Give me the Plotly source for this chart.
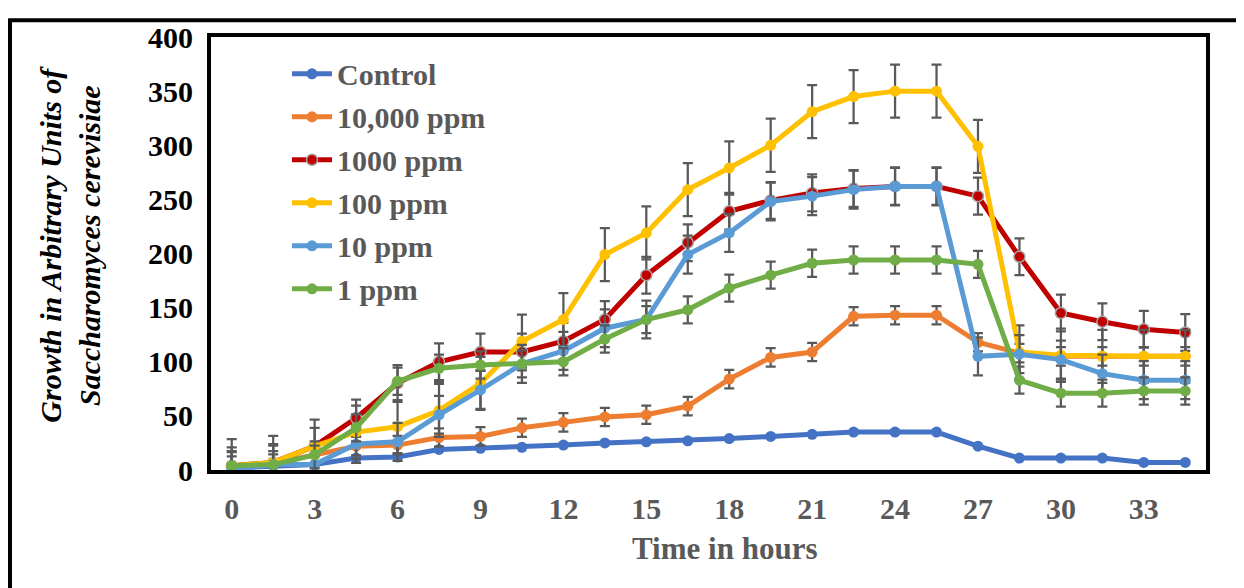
import plotly.graph_objects as go

hours = [0, 1.5, 3, 4.5, 6, 7.5, 9, 10.5, 12, 13.5, 15, 16.5, 18, 19.5, 21, 22.5,
         24, 25.5, 27, 28.5, 30, 31.5, 33, 34.5]

control = [2, 4, 5, 11, 12, 19, 20, 21, 23, 25, 26, 27, 29, 31, 33, 35, 35, 35, 22, 11, 11, 11, 7, 7]
ppm_10000 = [4, 6, 14, 22, 23, 30, 31, 39, 44, 49, 51, 59, 84, 104, 109, 142, 143, 143, 118, 108, 105, 105, 105, 105]
ppm_1000 = [4, 7, 22, 48, 80, 100, 109, 109, 119, 139, 180, 210, 239, 249, 256, 260, 262, 262, 253, 197, 145, 137, 130, 127]
ppm_100 = [4, 7, 22, 35, 40, 55, 80, 119, 139, 199, 219, 259, 279, 300, 331, 345, 350, 350, 299, 109, 106, 105, 105, 105]
ppm_10 = [0, 5, 5, 24, 26, 51, 74, 98, 110, 131, 139, 199, 219, 248, 253, 259, 262, 262, 105, 107, 102, 89, 83, 83]
ppm_1 = [4, 5, 14, 39, 82, 94, 97, 98, 100, 121, 139, 148, 168, 180, 191, 194, 194, 194, 190, 83, 71, 71, 73, 73]

series_names = ["Control", "10,000 ppm", "1000 ppm", "100 ppm", "10 ppm", "1 ppm"]
series_values = [control, ppm_10000, ppm_1000, ppm_100, ppm_10, ppm_1]
series_errors = [None, 8.5, 17, 24.5, 17.5, 12.5]
series_colors = ["#4472C4", "#ED7D31", "#C00000", "#FFC000", "#5B9BD5", "#70AD47"]

x_ticks = [0, 3, 6, 9, 12, 15, 18, 21, 24, 27, 30, 33]
y_ticks = [0, 50, 100, 150, 200, 250, 300, 350, 400]

SERIF = "Liberation Serif, Times New Roman, serif"
GRAY = "#595959"

fig = go.Figure()
for name, vals, err, col in zip(series_names, series_values, series_errors, series_colors):
    marker = dict(size=11, color=col)
    if name == "1000 ppm":
        marker["line"] = dict(color="#A5A5A5", width=1.5)
    else:
        marker["line"] = dict(color=col, width=0)
    kw = {}
    if err is not None:
        kw["error_y"] = dict(type="constant", value=err, color=GRAY, thickness=2.25, width=5)
    fig.add_trace(go.Scatter(
        x=hours, y=vals, name=name, mode="lines+markers",
        line=dict(color=col, width=5), marker=marker,
        legendgroup=name, **kw))

# page body has an 8px margin: positions below are screen pixels minus 8
OFF = 8
W, H = 1244 - OFF, 588 - OFF
L, R, T, B = 211 - OFF, 1206 - OFF, 28 - OFF, 470 - OFF


def px(xs):
    return (xs - OFF - L) / (R - L)


def py(ys):
    return (B - (ys - OFF)) / (B - T)


fig.update_layout(
    width=W, height=H,
    margin=dict(l=L, r=W - R, t=T, b=H - B),
    paper_bgcolor="white", plot_bgcolor="white",
    showlegend=True,
    legend=dict(
        x=px(287), y=py(39), xanchor="left", yanchor="top",
        bgcolor="rgba(0,0,0,0)",
        font=dict(family=SERIF, size=30, color=GRAY, weight="bold"),
        tracegroupgap=1, itemwidth=40,
    ),
    xaxis=dict(
        range=[-0.75, 35.25], tickmode="array", tickvals=x_ticks,
        ticktext=[str(v) for v in x_ticks],
        showgrid=False, zeroline=False, showline=True, linecolor="black", linewidth=4,
        mirror=True, ticks="", ticklabelstandoff=9,
        tickfont=dict(family=SERIF, size=30, color=GRAY, weight="bold"),
    ),
    yaxis=dict(
        range=[0, 400], tickmode="array", tickvals=y_ticks,
        ticktext=[str(v) for v in y_ticks],
        showgrid=False, zeroline=False, showline=True, linecolor="black", linewidth=4,
        mirror=True, ticks="", ticklabelstandoff=8,
        tickfont=dict(family=SERIF, size=30, color="black", weight="bold"),
    ),
    annotations=[
        dict(text="Time in hours", xref="paper", yref="paper",
             x=px(724), y=py(550), showarrow=False,
             xanchor="center", yanchor="middle",
             font=dict(family=SERIF, size=31, color=GRAY, weight="bold")),
        dict(text="<i>Growth in Arbitrary Units of<br>Saccharomyces cerevisiae</i>",
             xref="paper", yref="paper",
             x=px(70), y=py(240), showarrow=False,
             textangle=-90, xanchor="center", yanchor="middle",
             font=dict(family=SERIF, size=30, color="black", weight="bold")),
    ],
    shapes=[
        dict(type="rect", xref="paper", yref="paper",
             x0=px(10), x1=px(1320), y0=py(800), y1=py(11),
             line=dict(color="black", width=4), fillcolor="rgba(0,0,0,0)", layer="above"),
    ],
)

fig.write_html("out.html")
